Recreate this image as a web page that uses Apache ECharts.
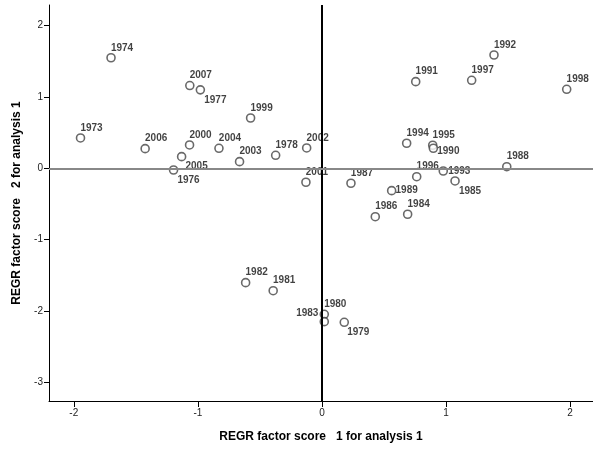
<!DOCTYPE html>
<html>
<head>
<meta charset="utf-8">
<script src="https://cdn.jsdelivr.net/npm/echarts@6/dist/echarts.min.js"></script>
<style>html,body{margin:0;padding:0;background:#fff}#c{width:593px;height:450px}</style>
</head>
<body>
<div id="c"></div>
<script>
// ---- data ----
const years = [1974, 2007, 1977, 1999, 1973, 2006, 2000, 2004, 2003, 1978, 2002, 2005, 1976, 2001,
  1992, 1991, 1997, 1998, 1994, 1995, 1990, 1988, 1987, 1996, 1993, 1985, 1989, 1986, 1984,
  1982, 1981, 1980, 1983, 1979];
const score1 = [-1.70, -1.065, -0.98, -0.575, -1.946, -1.425, -1.067, -0.83, -0.664, -0.373, -0.123, -1.131, -1.196, -0.129,
  1.387, 0.756, 1.207, 1.973, 0.683, 0.893, 0.898, 1.49, 0.234, 0.764, 0.978, 1.073, 0.562, 0.43, 0.691,
  -0.615, -0.393, 0.019, 0.019, 0.18];
const score2 = [1.55, 1.16, 1.10, 0.705, 0.425, 0.275, 0.327, 0.28, 0.093, 0.182, 0.285, 0.163, -0.024, -0.196,
  1.589, 1.215, 1.234, 1.108, 0.351, 0.323, 0.281, 0.022, -0.21, -0.118, -0.038, -0.178, -0.314, -0.679, -0.645,
  -1.604, -1.717, -2.048, -2.151, -2.16];
const xTicks = [-2, -1, 0, 1, 2];
const yTicks = [-3, -2, -1, 0, 1, 2];
const xTitle = 'REGR factor score   1 for analysis 1';
const yTitle = 'REGR factor score   2 for analysis 1';

// ---- label placement (style) ----
const labelOffsets = {
  1977: [15, 10], 2005: [15, 10], 1976: [15, 10], 1985: [15, 10], 1979: [14, 10],
  1990: [15, 3], 1993: [16, 0], 1989: [15, 0], 1983: [-17, -8]
};
const font = '"Liberation Sans", Arial, sans-serif';

const pts = years.map((y, i) => ({
  value: [score1[i], score2[i]],
  label: { offset: labelOffsets[y] || [11, -10] }
}));

const chart = echarts.init(document.getElementById('c'), null, { renderer: 'canvas' });
chart.setOption({
  animation: false,
  backgroundColor: '#fff',
  grid: { left: 49, right: 0, top: 5, bottom: 49, containLabel: false },
  xAxis: {
    type: 'value', min: -2.2, max: 2.185,
    name: xTitle, nameLocation: 'middle', nameGap: 30,
    nameTextStyle: { fontFamily: font, fontSize: 12, fontWeight: 'bold', color: '#000' },
    axisLine: { show: true, onZero: false, lineStyle: { color: '#000', width: 1 } },
    axisTick: { show: true, customValues: xTicks, length: 6, lineStyle: { color: '#000' } },
    axisLabel: { customValues: xTicks, fontFamily: font, fontSize: 10, color: '#222', margin: 7 },
    splitLine: { show: false }
  },
  yAxis: {
    type: 'value', min: -3.264, max: 2.29,
    name: yTitle, nameLocation: 'middle', nameGap: 26, nameRotate: 90,
    nameTextStyle: { fontFamily: font, fontSize: 12, fontWeight: 'bold', color: '#000' },
    axisLine: { show: true, onZero: false, lineStyle: { color: '#000', width: 1 } },
    axisTick: { show: true, customValues: yTicks, length: 5, lineStyle: { color: '#000' } },
    axisLabel: { customValues: yTicks, fontFamily: font, fontSize: 10, color: '#222', margin: 6 },
    splitLine: { show: false }
  },
  series: [{
    type: 'scatter',
    data: pts,
    symbol: 'circle',
    symbolSize: 8,
    itemStyle: { color: '#fff', borderColor: '#444', borderWidth: 1.6 },
    label: {
      show: true, position: 'inside',
      formatter: p => String(years[p.dataIndex]),
      fontFamily: font, fontSize: 10, fontWeight: 'bold', color: '#111', align: 'center', verticalAlign: 'middle'
    },
    markLine: {
      silent: true, symbol: 'none', animation: false,
      label: { show: false },
      data: [
        { xAxis: 0, lineStyle: { color: '#000', width: 2, type: 'solid' } },
        { yAxis: 0, lineStyle: { color: '#888', width: 2, type: 'solid' } }
      ]
    }
  }]
});
</script>
</body>
</html>
